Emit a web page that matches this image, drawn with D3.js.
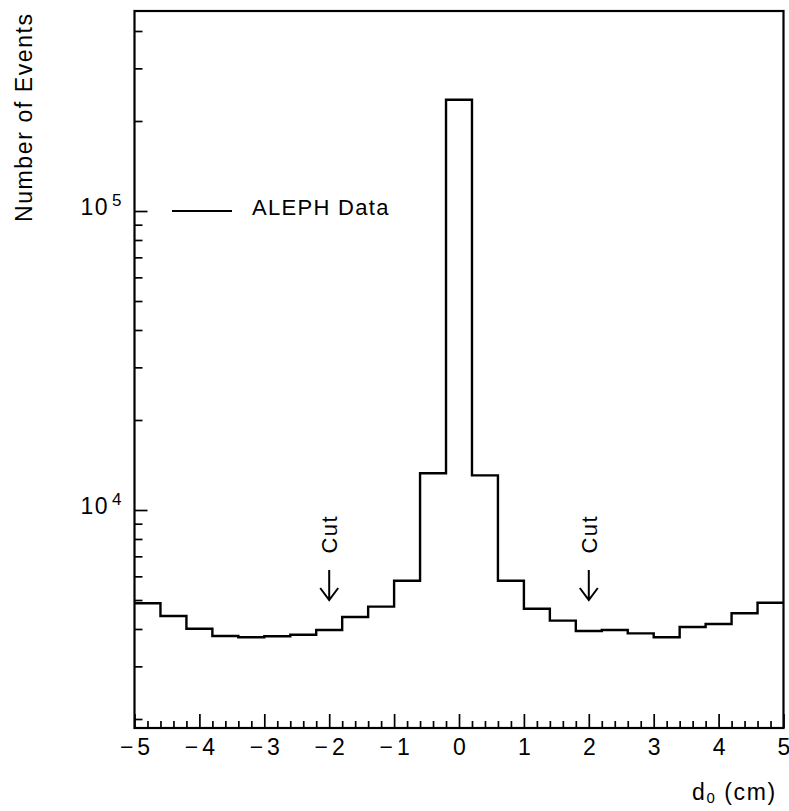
<!DOCTYPE html>
<html>
<head>
<meta charset="utf-8">
<script src="https://cdn.jsdelivr.net/npm/d3@7"></script>
<style>
  body { margin: 0; background: #fff; }
  svg { font-family: "Liberation Sans", Arial, Helvetica, sans-serif; }
</style>
</head>
<body>
<div id="container"></div>
<script>
width = 789;
height = 811;

// histogram: lower edge of each 0.4 cm bin and the number of events in it
binLow = [-5.0, -4.6, -4.2, -3.8, -3.4, -3.0, -2.6, -2.2, -1.8, -1.4, -1.0, -0.6, -0.2,
          0.2, 0.6, 1.0, 1.4, 1.8, 2.2, 2.6, 3.0, 3.4, 3.8, 4.2, 4.6];
binHigh = 5.0;
counts = [4875, 4422, 4009, 3790, 3752, 3781, 3828, 3970, 4387, 4750, 5800, 13270, 235500,
          13060, 5800, 4677, 4266, 3938, 3970, 3868, 3752, 4064, 4155, 4514, 4898];

xMajorTicks = [-5, -4, -3, -2, -1, 0, 1, 2, 3, 4, 5];
xMinorTicks = [-4.8, -4.6, -4.4, -4.2, -3.8, -3.6, -3.4, -3.2, -2.8, -2.6, -2.4, -2.2,
               -1.8, -1.6, -1.4, -1.2, -0.8, -0.6, -0.4, -0.2, 0.2, 0.4, 0.6, 0.8,
               1.2, 1.4, 1.6, 1.8, 2.2, 2.4, 2.6, 2.8, 3.2, 3.4, 3.6, 3.8, 4.2, 4.4, 4.6, 4.8];
yMajorTicks = [1e4, 1e5];
yMinorTicks = [2000, 3000, 4000, 5000, 6000, 7000, 8000, 9000,
               20000, 30000, 40000, 50000, 60000, 70000, 80000, 90000,
               200000, 300000, 400000];

// cut positions, with arrow tail / tip in number of events
cuts = [-2, 2];
cutArrowTail = 6300;
cutArrowTip = 5000;
cutLabelAt = 8300;

margin = {top: 11, right: 5, bottom: 83, left: 134.5};

x = d3.scaleLinear()
    .domain([-5, 5])
    .range([margin.left, width - margin.right - 0.5]);

y = d3.scaleLog()
    .domain([1866, 466600])
    .range([height - margin.bottom, margin.top]);

const svg = d3.select('div#container')
    .append('svg')
    .attr("width", width)
    .attr("height", height)
    .attr("viewBox", [0, 0, width, height]);

// bottom axis: major ticks with labels, minor ticks without
svg.append("g")
    .attr("transform", `translate(0,${y.range()[0]})`)
    .call(d3.axisBottom(x)
        .tickValues(xMajorTicks)
        .tickSize(-14)
        .tickPadding(11)
        .tickFormat(""))
    .call(g => g.select(".domain").remove())
    .call(g => g.selectAll(".tick line").attr("stroke-width", 1.7))
    .call(g => g.selectAll(".tick text")
        .attr("font-size", 23)
        .attr("font-family", "inherit")
        .attr("fill", "#000")
        .each(function (d) {
            const t = d3.select(this);
            if (d < 0) {
                t.append("tspan").text("\u2212");
                t.append("tspan").attr("dx", 4).text(Math.abs(d));
            } else {
                t.append("tspan").text(d);
            }
        }));

svg.append("g")
    .attr("transform", `translate(0,${y.range()[0]})`)
    .call(d3.axisBottom(x)
        .tickValues(xMinorTicks)
        .tickSize(-7)
        .tickFormat(""))
    .call(g => g.select(".domain").remove())
    .call(g => g.selectAll(".tick line").attr("stroke-width", 1.7));

// left axis: powers of ten with superscript exponent
svg.append("g")
    .attr("transform", `translate(${x.range()[0]},0)`)
    .call(d3.axisLeft(y)
        .tickValues(yMajorTicks)
        .tickSize(-13)
        .tickPadding(13)
        .tickFormat(() => ""))
    .call(g => g.select(".domain").remove())
    .call(g => g.selectAll(".tick line").attr("stroke-width", 1.7))
    .call(g => g.selectAll(".tick text")
        .attr("font-family", "inherit")
        .attr("fill", "#000")
        .each(function (d) {
            const t = d3.select(this);
            t.append("tspan").attr("font-size", 23).attr("letter-spacing", 1.5).text("10");
            t.append("tspan").attr("font-size", 17).attr("dx", 3).attr("dy", -9)
                .text(Math.round(Math.log10(d)));
        }));

svg.append("g")
    .attr("transform", `translate(${x.range()[0]},0)`)
    .call(d3.axisLeft(y)
        .tickValues(yMinorTicks)
        .tickSize(-8)
        .tickFormat(""))
    .call(g => g.select(".domain").remove())
    .call(g => g.selectAll(".tick line").attr("stroke-width", 1.7));

// frame
svg.append("rect")
    .attr("x", x.range()[0])
    .attr("y", y.range()[1])
    .attr("width", x.range()[1] - x.range()[0])
    .attr("height", y.range()[0] - y.range()[1])
    .attr("fill", "none")
    .attr("stroke", "#000")
    .attr("stroke-width", 2.2);

// histogram as a step line
const steps = binLow.map((b, i) => [b, counts[i]]);
steps.push([binHigh, counts[counts.length - 1]]);

const line = d3.line()
    .x(d => x(d[0]))
    .y(d => y(d[1]))
    .curve(d3.curveStepAfter);

svg.append("path")
    .datum(steps)
    .attr("fill", "none")
    .attr("stroke", "#000")
    .attr("stroke-width", 2.4)
    .attr("d", line);

// cut arrows and labels
const cut = svg.append("g").selectAll("g")
    .data(cuts)
    .join("g");

cut.append("path")
    .attr("fill", "none")
    .attr("stroke", "#000")
    .attr("stroke-width", 2)
    .attr("d", d => {
        const cx = x(d), tail = y(cutArrowTail), tip = y(cutArrowTip);
        return `M${cx},${tail}V${tip}M${cx - 9},${tip - 12}L${cx},${tip}L${cx + 9},${tip - 12}`;
    });

cut.append("text")
    .attr("transform", d => `translate(${x(d) + 8},${y(cutLabelAt)}) rotate(-90)`)
    .attr("text-anchor", "middle")
    .attr("font-size", 22)
    .attr("letter-spacing", 1.5)
    .text("Cut");

// legend
const legendY = y(1e5);
svg.append("line")
    .attr("x1", 172)
    .attr("x2", 232)
    .attr("y1", legendY)
    .attr("y2", legendY)
    .attr("stroke", "#000")
    .attr("stroke-width", 2);

svg.append("text")
    .attr("x", 252)
    .attr("y", legendY + 4)
    .attr("font-size", 22)
    .attr("letter-spacing", 1.3)
    .text("ALEPH Data");

// axis titles
svg.append("text")
    .attr("transform", `translate(32,222) rotate(-90)`)
    .attr("font-size", 23)
    .attr("letter-spacing", 1.6)
    .text("Number of Events");

const xt = svg.append("text")
    .attr("x", 692)
    .attr("y", 800)
    .attr("font-size", 23)
    .attr("letter-spacing", 1.6);
xt.append("tspan").text("d");
xt.append("tspan").attr("font-size", 15).attr("dy", 3).text("0");
xt.append("tspan").attr("dy", -3).text(" (cm)");
</script>
</body>
</html>
